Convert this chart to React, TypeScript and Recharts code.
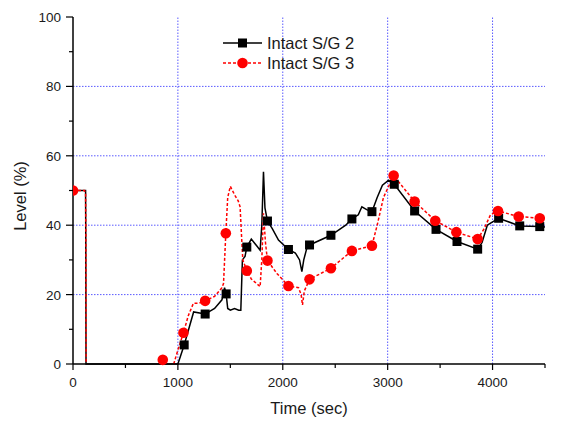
import React from "react";
import {
  ComposedChart,
  Line,
  Scatter,
  XAxis,
  YAxis,
  ReferenceLine,
} from "recharts";

// Intact S/G 2 (black, solid) — line trace
const sg2Time = [0, 120, 122, 124, 1000, 1060, 1150, 1260, 1350, 1420, 1445, 1460, 1475, 1500, 1540, 1580, 1600, 1615, 1640, 1657, 1700, 1753, 1784, 1800, 1816, 1830, 1854, 1900, 1959, 2054, 2120, 2160, 2182, 2200, 2230, 2255, 2459, 2600, 2659, 2720, 2754, 2800, 2850, 2900, 2950, 3009, 3063, 3257, 3461, 3661, 3858, 3900, 3950, 3985, 4058, 4259, 4450, 4500];
const sg2Level = [50, 50, 35, 0, 0, 5.5, 15, 14.4, 16, 18.5, 22, 20.2, 16, 15.5, 16, 15.5, 15.5, 30, 31, 33.7, 36, 34, 32.8, 40, 55.4, 45, 41.2, 39, 35.7, 33, 32, 30, 26.6, 30, 33.5, 34.3, 37.1, 40, 41.8, 43, 45.3, 44.5, 43.9, 48, 51.5, 53, 51.8, 44.1, 38.8, 35.3, 33.1, 35, 40, 40.7, 42, 39.8, 39.6, 39.5];
// Intact S/G 2 — symbols
const sg2MarkTime = [1060, 1260, 1460, 1657, 1854, 2054, 2255, 2459, 2659, 2850, 3063, 3257, 3461, 3661, 3858, 4058, 4259, 4450];
const sg2MarkLevel = [5.5, 14.4, 20.2, 33.7, 41.2, 33, 34.3, 37.1, 41.8, 43.9, 51.8, 44.1, 38.8, 35.3, 33.1, 42, 39.8, 39.6];

// Intact S/G 3 (red, dashed) — line trace (null = no trace while the level sits on the axis)
const sg3Time = [0, 110, 120, 123, 125, 500, 960, 1000, 1053, 1100, 1148, 1200, 1260, 1350, 1420, 1435, 1457, 1475, 1500, 1520, 1545, 1575, 1593, 1610, 1619, 1657, 1700, 1784, 1800, 1816, 1835, 1854, 1944, 2054, 2150, 2175, 2188, 2205, 2255, 2459, 2659, 2850, 2900, 2960, 3057, 3257, 3454, 3655, 3858, 3920, 3980, 4052, 4249, 4450, 4500];
const sg3Level = [50, 50, 49, 35, 0, null, 0, 4, 9, 14, 17.5, 17.5, 18.2, 19.5, 22, 23.2, 37.7, 48, 51.2, 50, 48.5, 47, 45.3, 35, 30, 26.9, 24.5, 22.3, 30, 43.4, 35, 29.8, 26.1, 22.5, 22, 20, 17, 21, 24.4, 27.6, 32.6, 34.1, 40, 48, 54.3, 46.8, 41.3, 38, 36, 39, 43, 44.1, 42.5, 42, 42];
// Intact S/G 3 — symbols
const sg3MarkTime = [0, 856, 1053, 1260, 1457, 1657, 1854, 2054, 2255, 2459, 2659, 2850, 3057, 3257, 3454, 3655, 3858, 4052, 4249, 4450];
const sg3MarkLevel = [50, 1.2, 9, 18.2, 37.7, 26.9, 29.8, 22.5, 24.4, 27.6, 32.6, 34.1, 54.3, 46.8, 41.3, 38, 36, 44.1, 42.5, 42];

const xTicks = [0, 500, 1000, 1500, 2000, 2500, 3000, 3500, 4000, 4500];
const yTicks = [0, 10, 20, 30, 40, 50, 60, 70, 80, 90, 100];
const xGrid = [1000, 2000, 3000, 4000];
const yGrid = [20, 40, 60, 80];

const FONT = "'Liberation Sans', Arial, sans-serif";

const zip = (t: number[], v: (number | null)[]) => t.map((x, i) => ({ t: x, v: v[i] }));

const sg2Line = zip(sg2Time, sg2Level);
const sg2Marks = zip(sg2MarkTime, sg2MarkLevel);
const sg3Line = zip(sg3Time, sg3Level);
const sg3Marks = zip(sg3MarkTime, sg3MarkLevel);

function XTick(props: any) {
  const { x, y, payload } = props;
  const major = payload.value % 1000 === 0;
  return (
    <g>
      <line x1={x} x2={x} y1={y} y2={y + (major ? 6 : 4)} stroke="#000" strokeWidth={1.2} />
      {major && (
        <text x={x} y={y + 23} textAnchor="middle" fontSize={13.5} fontFamily={FONT} fill="#1a1a1a">
          {payload.value}
        </text>
      )}
    </g>
  );
}

function YTick(props: any) {
  const { x, y, payload } = props;
  const major = payload.value % 20 === 0;
  return (
    <g>
      <line x1={x} x2={x - (major ? 7 : 4)} y1={y} y2={y} stroke="#000" strokeWidth={1.2} />
      {major && (
        <text x={x - 12} y={y + 5} textAnchor="end" fontSize={13.5} fontFamily={FONT} fill="#1a1a1a">
          {payload.value}
        </text>
      )}
    </g>
  );
}

const Square = (props: any) => (
  <rect x={props.cx - 4.5} y={props.cy - 4.5} width={9} height={9} fill="#000" />
);
const Dot = (props: any) => <circle cx={props.cx} cy={props.cy} r={5.3} fill="#ff0000" />;

function ChartLegend() {
  return (
    <svg width={200} height={45} style={{ position: "absolute", left: 215, top: 30 }}>
      <line x1={8} x2={47} y1={13} y2={13} stroke="#000" strokeWidth={1.5} />
      <rect x={23} y={8.5} width={9} height={9} fill="#000" />
      <text x={52} y={19} fontSize={16.5} fontFamily={FONT} fill="#1a1a1a">Intact S/G 2</text>
      <line x1={8} x2={47} y1={33} y2={33} stroke="#ff0000" strokeWidth={1.5} strokeDasharray="3 2" />
      <circle cx={27.5} cy={33} r={5.3} fill="#ff0000" />
      <text x={52} y={39} fontSize={16.5} fontFamily={FONT} fill="#1a1a1a">Intact S/G 3</text>
    </svg>
  );
}

export default function App() {
  return (
    <div style={{ position: "absolute", left: 0, top: 0, width: 566, height: 421, background: "#fff" }}>
      <ComposedChart width={566} height={421} margin={{ top: 17, right: 21, left: 0, bottom: 0 }}>
        <XAxis
          dataKey="t"
          type="number"
          domain={[0, 4500]}
          ticks={xTicks}
          tick={<XTick />}
          tickLine={false}
          tickSize={0}
          tickMargin={0}
          height={57}
          interval={0}
          axisLine={{ stroke: "#000", strokeWidth: 1.5 }}
          allowDataOverflow
          label={{
            value: "Time (sec)",
            content: (p: any) => (
              <text
                x={p.viewBox.x + p.viewBox.width / 2}
                y={414}
                textAnchor="middle"
                fontSize={16.5}
                fontFamily={FONT}
                fill="#1a1a1a"
              >
                Time (sec)
              </text>
            ),
          }}
        />
        <YAxis
          dataKey="v"
          type="number"
          domain={[0, 100]}
          ticks={yTicks}
          tick={<YTick />}
          tickLine={false}
          tickSize={0}
          tickMargin={0}
          width={73}
          interval={0}
          axisLine={{ stroke: "#000", strokeWidth: 1.5 }}
          label={{
            value: "Level (%)",
            content: () => (
              <text
                x={26}
                y={196}
                transform="rotate(-90 26 196)"
                textAnchor="middle"
                fontSize={16.5}
                fontFamily={FONT}
                fill="#1a1a1a"
              >
                Level (%)
              </text>
            ),
          }}
        />
        {xGrid.map((g) => (
          <ReferenceLine key={"x" + g} x={g} stroke="#5a5aff" strokeWidth={1} strokeDasharray="1.5 1.5" />
        ))}
        {yGrid.map((g) => (
          <ReferenceLine key={"y" + g} y={g} stroke="#5a5aff" strokeWidth={1} strokeDasharray="1.5 1.5" />
        ))}
        <Line
          data={sg2Line}
          dataKey="v"
          type="linear"
          stroke="#000"
          strokeWidth={1.5}
          dot={false}
          activeDot={false}
          isAnimationActive={false}
        />
        <Line
          data={sg3Line}
          dataKey="v"
          type="linear"
          stroke="#ff0000"
          strokeWidth={1.5}
          strokeDasharray="3 2"
          dot={false}
          activeDot={false}
          isAnimationActive={false}
        />
        <Scatter data={sg2Marks} dataKey="v" shape={<Square />} isAnimationActive={false} />
        <Scatter data={sg3Marks} dataKey="v" shape={<Dot />} isAnimationActive={false} />
      </ComposedChart>
      <ChartLegend />
    </div>
  );
}
